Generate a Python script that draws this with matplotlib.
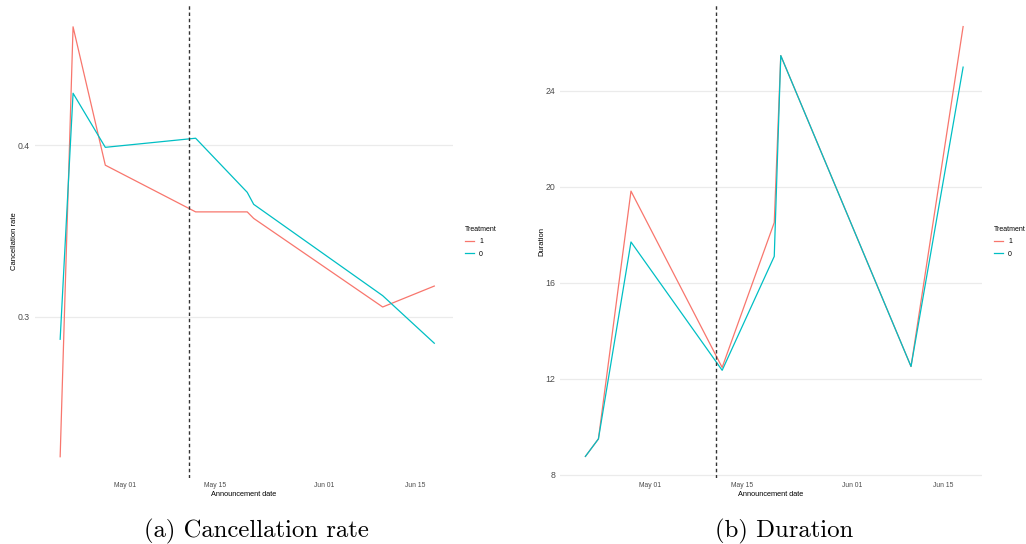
import matplotlib
matplotlib.use('Agg')
import matplotlib.pyplot as plt
import matplotlib.dates as mdates
import numpy as np
import pandas as pd

dates = pd.to_datetime(['2020-04-21', '2020-04-23', '2020-04-28', '2020-05-12',
                        '2020-05-20', '2020-05-21', '2020-06-10', '2020-06-18'])
announce = pd.Timestamp('2020-05-11')

cancel_t1 = [0.2186, 0.469, 0.3884, 0.3612, 0.3612, 0.3574, 0.3058, 0.318]
cancel_t0 = [0.287, 0.4303, 0.3988, 0.4041, 0.3726, 0.3656, 0.3124, 0.2847]

dur_t1 = [8.76, 9.49, 19.82, 12.47, 18.51, 25.47, 12.51, 26.68]
dur_t0 = [8.76, 9.49, 17.70, 12.35, 17.10, 25.47, 12.51, 24.99]

cancel_ticks = [0.3, 0.4]
dur_ticks = [8, 12, 16, 20, 24]
date_ticks = pd.to_datetime(['2020-05-01', '2020-05-15', '2020-06-01', '2020-06-15'])

RED = '#F8766D'
TEAL = '#00BFC4'
SANS = 'Liberation Sans'

W, H = 1026, 544
fig = plt.figure(figsize=(W / 100, H / 100), dpi=100)


def px_axes(x0, x1, y0, y1):
    return fig.add_axes([x0 / W, 1 - y1 / H, (x1 - x0) / W, (y1 - y0) / H])


def style(ax, ylabel, yticks, ylim, fmt):
    may1 = mdates.date2num(pd.Timestamp('2020-05-01'))
    ax.set_xlim(may1 - 13.9, may1 + 50.9)
    ax.set_ylim(ylim)
    for s in ax.spines.values():
        s.set_visible(False)
    ax.set_yticks(yticks)
    ax.set_yticklabels([fmt(v) for v in yticks])
    ax.set_xticks(mdates.date2num(date_ticks))
    ax.set_xticklabels([d.strftime('%b %d') for d in date_ticks])
    ax.tick_params(length=0, labelcolor='#4D4D4D', pad=3)
    ax.tick_params(axis='x', labelsize=4.9)
    ax.tick_params(axis='y', labelsize=6.3, pad=3.5)
    for lab in ax.get_xticklabels() + ax.get_yticklabels():
        lab.set_fontfamily(SANS)
    ax.grid(axis='y', color='#EBEBEB', lw=0.9)
    ax.set_axisbelow(True)
    ax.set_xlabel('Announcement date', fontsize=5.3, family=SANS, labelpad=1)
    ax.set_ylabel(ylabel, fontsize=5.5, family=SANS, labelpad=0)
    ax.axvline(mdates.date2num(announce), color='#333333', lw=1.0, ls=(0, (2.5, 2)))
    leg = ax.legend(title='Treatment', frameon=False, fontsize=5, title_fontsize=5,
                    handlelength=1.3, handletextpad=0.7, labelspacing=0.75,
                    loc='center left', bbox_to_anchor=(ax.get_position().x1 + 6 / W, 1 - 242 / H),
                    bbox_transform=fig.transFigure, alignment='left')
    for t in leg.get_texts():
        t.set_fontfamily(SANS)
    leg.get_title().set_fontfamily(SANS)


x = mdates.date2num(dates)

ax1 = px_axes(35, 453, 5, 478)
ax1.plot(x, cancel_t1, color=RED, lw=0.9, label='1')
ax1.plot(x, cancel_t0, color=TEAL, lw=0.9, label='0')
style(ax1, 'Cancellation rate', cancel_ticks, (0.2062, 0.4817), lambda v: f'{v:.1f}')

ax2 = px_axes(560, 982, 5, 478)
ax2.plot(x, dur_t1, color=RED, lw=0.9, label='1')
ax2.plot(x, dur_t0, color=TEAL, lw=0.9, label='0')
style(ax2, 'Duration', dur_ticks, (7.86, 27.58), lambda v: f'{v:d}')

fig.text(256 / W, 1 - 531 / H, '(a) Cancellation rate', ha='center', va='center',
         family='cmr10', fontsize=17.8)
fig.text(784 / W, 1 - 531 / H, '(b) Duration', ha='center', va='center',
         family='cmr10', fontsize=17.8)

fig.savefig('out.png', dpi=100)
